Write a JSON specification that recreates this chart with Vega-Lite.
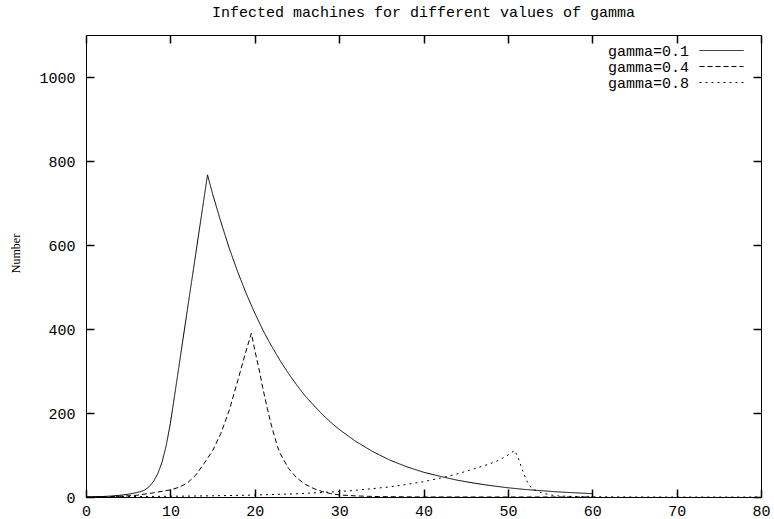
{
  "$schema": "https://vega.github.io/schema/vega-lite/v6.json",
  "width": 675,
  "height": 462,
  "autosize": {"type": "none"},
  "padding": {"left": 86, "top": 35, "right": 13, "bottom": 22},
  "background": "white",
  "title": {"text": "Infected machines for different values of gamma", "font": "Liberation Mono", "fontSize": 15, "fontWeight": "normal", "color": "black", "anchor": "middle", "offset": 14},
  "config": {
    "view": {"stroke": "black", "strokeWidth": 1},
    "axis": {"grid": false, "domainColor": "black", "tickColor": "black", "labelColor": "black", "labelFont": "Liberation Mono", "labelFontSize": 15}
  },
  "data": {"values": [
    {"x": 0, "y": 0, "g": "gamma=0.1"},
    {"x": 1, "y": 0.5, "g": "gamma=0.1"},
    {"x": 2, "y": 1.2, "g": "gamma=0.1"},
    {"x": 3, "y": 2.3, "g": "gamma=0.1"},
    {"x": 4, "y": 4, "g": "gamma=0.1"},
    {"x": 5, "y": 6.5, "g": "gamma=0.1"},
    {"x": 6, "y": 10.5, "g": "gamma=0.1"},
    {"x": 6.5, "y": 13, "g": "gamma=0.1"},
    {"x": 7, "y": 17, "g": "gamma=0.1"},
    {"x": 7.5, "y": 25, "g": "gamma=0.1"},
    {"x": 8, "y": 37, "g": "gamma=0.1"},
    {"x": 8.5, "y": 55, "g": "gamma=0.1"},
    {"x": 9, "y": 82, "g": "gamma=0.1"},
    {"x": 9.5, "y": 122, "g": "gamma=0.1"},
    {"x": 10, "y": 175, "g": "gamma=0.1"},
    {"x": 10.6, "y": 255, "g": "gamma=0.1"},
    {"x": 11, "y": 309, "g": "gamma=0.1"},
    {"x": 12, "y": 444, "g": "gamma=0.1"},
    {"x": 13, "y": 578, "g": "gamma=0.1"},
    {"x": 14, "y": 713, "g": "gamma=0.1"},
    {"x": 14.4, "y": 767, "g": "gamma=0.1"},
    {"x": 15, "y": 722, "g": "gamma=0.1"},
    {"x": 16, "y": 654, "g": "gamma=0.1"},
    {"x": 17, "y": 591, "g": "gamma=0.1"},
    {"x": 18, "y": 535, "g": "gamma=0.1"},
    {"x": 19, "y": 484, "g": "gamma=0.1"},
    {"x": 20, "y": 438, "g": "gamma=0.1"},
    {"x": 21, "y": 396, "g": "gamma=0.1"},
    {"x": 22, "y": 359, "g": "gamma=0.1"},
    {"x": 23, "y": 325, "g": "gamma=0.1"},
    {"x": 24, "y": 294, "g": "gamma=0.1"},
    {"x": 25, "y": 266, "g": "gamma=0.1"},
    {"x": 26, "y": 240, "g": "gamma=0.1"},
    {"x": 27, "y": 218, "g": "gamma=0.1"},
    {"x": 28, "y": 197, "g": "gamma=0.1"},
    {"x": 29, "y": 178, "g": "gamma=0.1"},
    {"x": 30, "y": 161, "g": "gamma=0.1"},
    {"x": 32, "y": 132, "g": "gamma=0.1"},
    {"x": 34, "y": 108, "g": "gamma=0.1"},
    {"x": 36, "y": 88, "g": "gamma=0.1"},
    {"x": 38, "y": 72, "g": "gamma=0.1"},
    {"x": 40, "y": 59, "g": "gamma=0.1"},
    {"x": 42, "y": 49, "g": "gamma=0.1"},
    {"x": 44, "y": 40, "g": "gamma=0.1"},
    {"x": 46, "y": 33, "g": "gamma=0.1"},
    {"x": 48, "y": 27, "g": "gamma=0.1"},
    {"x": 50, "y": 22, "g": "gamma=0.1"},
    {"x": 52, "y": 18, "g": "gamma=0.1"},
    {"x": 54, "y": 15, "g": "gamma=0.1"},
    {"x": 56, "y": 12, "g": "gamma=0.1"},
    {"x": 58, "y": 10, "g": "gamma=0.1"},
    {"x": 60, "y": 8, "g": "gamma=0.1"},

    {"x": 0, "y": 0, "g": "gamma=0.4"},
    {"x": 2, "y": 0.5, "g": "gamma=0.4"},
    {"x": 4, "y": 1.5, "g": "gamma=0.4"},
    {"x": 6, "y": 4, "g": "gamma=0.4"},
    {"x": 8, "y": 10, "g": "gamma=0.4"},
    {"x": 10, "y": 17, "g": "gamma=0.4"},
    {"x": 11, "y": 23, "g": "gamma=0.4"},
    {"x": 12, "y": 33, "g": "gamma=0.4"},
    {"x": 13, "y": 52, "g": "gamma=0.4"},
    {"x": 14, "y": 80, "g": "gamma=0.4"},
    {"x": 15, "y": 110, "g": "gamma=0.4"},
    {"x": 16, "y": 152, "g": "gamma=0.4"},
    {"x": 17, "y": 208, "g": "gamma=0.4"},
    {"x": 18, "y": 278, "g": "gamma=0.4"},
    {"x": 19, "y": 350, "g": "gamma=0.4"},
    {"x": 19.6, "y": 390, "g": "gamma=0.4"},
    {"x": 20, "y": 350, "g": "gamma=0.4"},
    {"x": 20.5, "y": 305, "g": "gamma=0.4"},
    {"x": 21, "y": 255, "g": "gamma=0.4"},
    {"x": 21.5, "y": 210, "g": "gamma=0.4"},
    {"x": 22, "y": 168, "g": "gamma=0.4"},
    {"x": 22.7, "y": 120, "g": "gamma=0.4"},
    {"x": 23, "y": 104, "g": "gamma=0.4"},
    {"x": 24, "y": 68, "g": "gamma=0.4"},
    {"x": 25, "y": 45, "g": "gamma=0.4"},
    {"x": 26, "y": 30, "g": "gamma=0.4"},
    {"x": 27, "y": 20, "g": "gamma=0.4"},
    {"x": 28, "y": 13, "g": "gamma=0.4"},
    {"x": 29, "y": 8, "g": "gamma=0.4"},
    {"x": 30, "y": 5, "g": "gamma=0.4"},
    {"x": 32, "y": 2.5, "g": "gamma=0.4"},
    {"x": 35, "y": 0.8, "g": "gamma=0.4"},
    {"x": 40, "y": 0.1, "g": "gamma=0.4"},
    {"x": 60, "y": 0, "g": "gamma=0.4"},

    {"x": 0, "y": 0.5, "g": "gamma=0.8"},
    {"x": 5, "y": 1, "g": "gamma=0.8"},
    {"x": 10, "y": 1.7, "g": "gamma=0.8"},
    {"x": 15, "y": 2.8, "g": "gamma=0.8"},
    {"x": 20, "y": 4.6, "g": "gamma=0.8"},
    {"x": 25, "y": 7.7, "g": "gamma=0.8"},
    {"x": 30, "y": 13, "g": "gamma=0.8"},
    {"x": 32, "y": 16, "g": "gamma=0.8"},
    {"x": 34, "y": 20, "g": "gamma=0.8"},
    {"x": 36, "y": 24, "g": "gamma=0.8"},
    {"x": 38, "y": 30, "g": "gamma=0.8"},
    {"x": 40, "y": 36.5, "g": "gamma=0.8"},
    {"x": 42, "y": 45, "g": "gamma=0.8"},
    {"x": 44, "y": 55, "g": "gamma=0.8"},
    {"x": 46, "y": 67, "g": "gamma=0.8"},
    {"x": 48, "y": 80, "g": "gamma=0.8"},
    {"x": 49, "y": 88, "g": "gamma=0.8"},
    {"x": 50, "y": 100, "g": "gamma=0.8"},
    {"x": 50.8, "y": 111, "g": "gamma=0.8"},
    {"x": 51.2, "y": 95, "g": "gamma=0.8"},
    {"x": 51.7, "y": 65, "g": "gamma=0.8"},
    {"x": 52.2, "y": 40, "g": "gamma=0.8"},
    {"x": 52.6, "y": 26, "g": "gamma=0.8"},
    {"x": 53, "y": 18, "g": "gamma=0.8"},
    {"x": 54, "y": 10, "g": "gamma=0.8"},
    {"x": 55, "y": 5, "g": "gamma=0.8"},
    {"x": 56, "y": 2.5, "g": "gamma=0.8"},
    {"x": 58, "y": 1, "g": "gamma=0.8"},
    {"x": 60, "y": 0.5, "g": "gamma=0.8"},
    {"x": 65, "y": 0.1, "g": "gamma=0.8"},
    {"x": 70, "y": 0, "g": "gamma=0.8"},
    {"x": 80, "y": 0, "g": "gamma=0.8"}
  ]},
  "layer": [
    {
      "mark": {"type": "line", "color": "black", "strokeWidth": 1},
      "encoding": {
        "x": {"field": "x", "type": "quantitative", "scale": {"domain": [0, 80], "nice": false, "zero": false},
              "axis": {"orient": "bottom", "title": null, "values": [0, 10, 20, 30, 40, 50, 60, 70, 80], "labelPadding": 14, "domain": false, "labelFlush": false,
                       "ticks": true, "tickColor": "black", "tickSize": -8, "tickWidth": 1.5, "zindex": 2}},
        "y": {"field": "y", "type": "quantitative", "scale": {"domain": [0, 1100], "nice": false},
              "axis": {"orient": "left", "title": "Number", "format": "d", "values": [0, 200, 400, 600, 800, 1000], "labelPadding": 19, "domain": false,
                       "ticks": true, "tickColor": "black", "tickSize": -8, "tickWidth": 1.5, "zindex": 2,
                       "titleFont": "Liberation Serif", "titleFontSize": 12, "titleFontWeight": "normal", "titleColor": "black",
                       "titleX": -71, "titleY": 218, "titleAngle": 270, "titleAlign": "center", "titleBaseline": "middle"}},
        "strokeDash": {"field": "g", "type": "nominal",
                       "scale": {"domain": ["gamma=0.1", "gamma=0.4", "gamma=0.8"], "range": [[1, 0], [5, 3], [2, 4]]},
                       "legend": {"title": null, "orient": "none", "legendX": 628, "legendY": 8, "symbolType": "M-4,0H4", "symbolSize": 121,
                                  "symbolStrokeWidth": 1, "symbolStrokeColor": "black", "symbolFillColor": "transparent", "symbolOpacity": 1, "labelFont": "Liberation Mono", "labelFontSize": 15,
                                  "labelColor": "black", "labelAlign": "right", "labelOffset": -40, "rowPadding": 0}}
      }
    },
    {
      "mark": {"type": "line", "opacity": 0},
      "encoding": {
        "x": {"field": "x", "type": "quantitative",
              "axis": {"orient": "top", "title": null, "labels": false, "domain": false, "values": [0, 10, 20, 30, 40, 50, 60, 70, 80],
                       "ticks": true, "tickColor": "black", "tickSize": -8, "tickWidth": 1.5, "zindex": 2}},
        "y": {"field": "y", "type": "quantitative",
              "axis": {"orient": "right", "title": null, "labels": false, "domain": false, "values": [0, 200, 400, 600, 800, 1000],
                       "ticks": true, "tickColor": "black", "tickSize": -8, "tickWidth": 1.5, "zindex": 2}},
        "detail": {"field": "g", "type": "nominal"}
      }
    }
  ],
  "resolve": {"axis": {"x": "independent", "y": "independent"}}
}
